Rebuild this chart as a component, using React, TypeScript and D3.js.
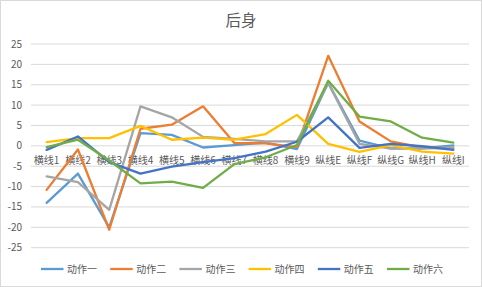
import React from "react";
import * as d3 from "d3";

const categories = ["横线1", "横线2", "横线3", "横线4", "横线5", "横线6", "横线7", "横线8", "横线9", "纵线E", "纵线F", "纵线G", "纵线H", "纵线I"];
const seriesNames = ["动作一", "动作二", "动作三", "动作四", "动作五", "动作六"];
const colors = ["#5B9BD5", "#ED7D31", "#A5A5A5", "#FFC000", "#4472C4", "#70AD47"];
const action1 = [-14, -6.8, -20, 3.1, 2.7, -0.4, 0.2, 0.8, -0.8, 15.5, 1.3, -0.6, -0.6, 0.1];
const action2 = [-10.8, -0.9, -20.6, 4.2, 5.2, 9.7, 0.7, 0.6, -0.3, 22.1, 6.0, 1.1, -0.4, -0.6];
const action3 = [-7.5, -8.9, -15.7, 9.7, 7.0, 2.2, 1.7, 1.1, 1.1, 15.4, 0.5, -0.7, -0.7, -0.4];
const action4 = [0.9, 1.9, 1.9, 4.9, 1.5, 2.0, 1.5, 2.9, 7.6, 0.5, -1.5, 0.2, -1.4, -1.9];
const action5 = [-1.0, 2.3, -4.0, -6.8, -5.1, -4.0, -3.0, -1.4, 1.0, 7.0, -0.5, 0.5, -0.1, -1.0];
const action6 = [-0.3, 1.5, -3.6, -9.2, -8.8, -10.3, -4.5, -2.8, 0.2, 16.0, 7.2, 6.0, 2.0, 0.8];
const yTicks = [-25, -20, -15, -10, -5, 0, 5, 10, 15, 20, 25];
const title = "后身";

const allSeries = [action1, action2, action3, action4, action5, action6];

export default function App() {
  const W = 482, H = 287;
  const x = d3.scaleBand<string>().domain(categories).range([31, 469]);
  const y = d3.scaleLinear().domain([-25, 25]).range([247.7, 44]);
  const line = d3.line<number>()
    .x((_, i) => (x(categories[i]) as number) + x.bandwidth() / 2)
    .y((d) => y(d));
  const font = "'Noto Sans CJK SC', 'Noto Sans', sans-serif";
  const legendX0 = 41;
  const legendStep = 69.2;
  return (
    <svg width={W} height={H} style={{ position: "absolute", left: 0, top: 0, background: "#fff" }} fontFamily={font}>
      <rect x={0.5} y={0.5} width={W - 1} height={H - 1} fill="#fff" stroke="#d9d9d9" />
      <text x={241} y={26} textAnchor="middle" fontSize={15.5} fill="#595959">{title}</text>
      {yTicks.map((t) => (
        <g key={t}>
          <line x1={31} x2={469} y1={y(t)} y2={y(t)} stroke="#d9d9d9" strokeWidth={1} />
          <text x={22} y={y(t)} dy="0.35em" textAnchor="end" fontSize={10} fill="#595959">{t}</text>
        </g>
      ))}
      {categories.map((c) => (
        <text key={c} x={(x(c) as number) + x.bandwidth() / 2} y={y(0) + 14.5} dy="0.35em" textAnchor="middle" fontSize={10} fill="#595959">{c}</text>
      ))}
      {allSeries.map((s, i) => (
        <path key={i} d={line(s) || ""} fill="none" stroke={colors[i]} strokeWidth={2.3} strokeLinejoin="round" strokeLinecap="round" />
      ))}
      {seriesNames.map((n, i) => (
        <g key={n} transform={`translate(${legendX0 + i * legendStep},269)`}>
          <line x1={0} x2={22.5} y1={0} y2={0} stroke={colors[i]} strokeWidth={2.3} />
          <text x={26} y={0} dy="0.35em" fontSize={10} fill="#595959">{n}</text>
        </g>
      ))}
    </svg>
  );
}
